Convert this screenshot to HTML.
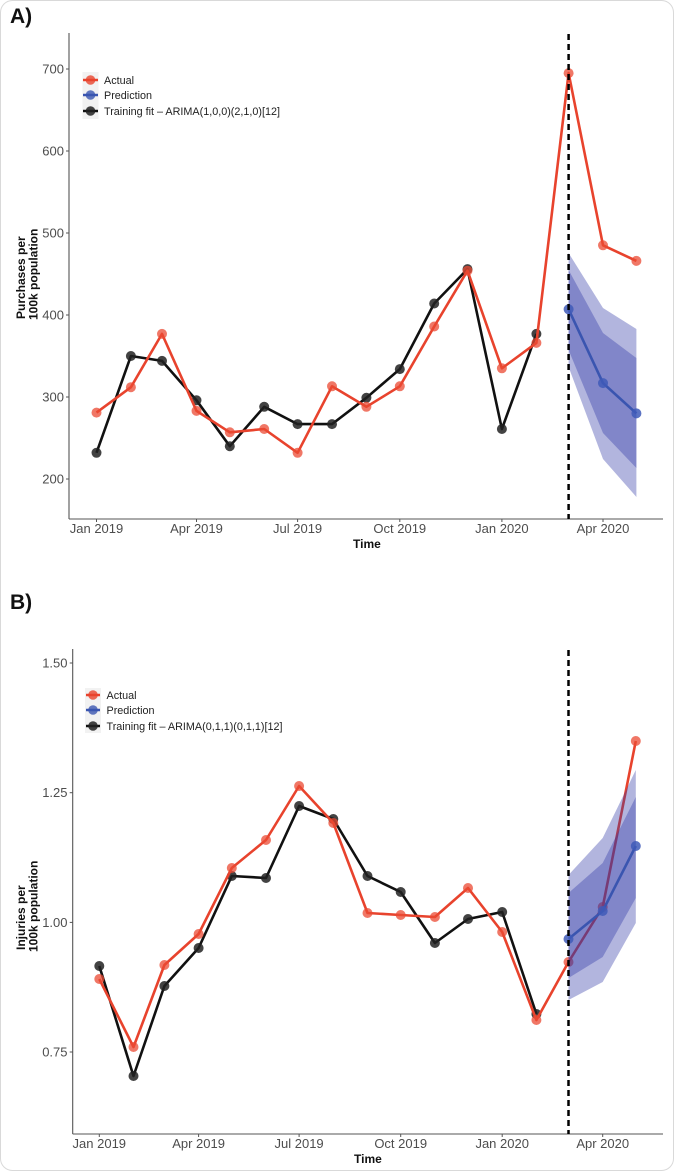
<!DOCTYPE html>
<html>
<head>
<meta charset="utf-8">
<style>
  html,body{margin:0;padding:0;background:#fff;}
  svg{display:block;}
  text{font-family:"Liberation Sans",Arial,sans-serif;}
  .tick{font-size:13px;fill:#4d4d4d;}
  .ttl{font-size:12px;font-weight:bold;fill:#111;}
  .leg{font-size:10.8px;fill:#222;}
  .pl{font-size:21px;font-weight:bold;fill:#111;}
</style>
</head>
<body>
<svg width="674" height="1171" viewBox="0 0 674 1171" xmlns="http://www.w3.org/2000/svg">
  <rect x="0.5" y="0.5" width="673" height="1170" rx="12" ry="12" fill="#fff" stroke="#d9d9d9" stroke-width="1"/>

  <!-- ================= PANEL A ================= -->
  <text class="pl" x="10" y="23">A)</text>

  <!-- axes -->
  <line x1="69" y1="33" x2="69" y2="519" stroke="#555" stroke-width="1.1"/>
  <line x1="69" y1="519" x2="663" y2="519" stroke="#555" stroke-width="1.1"/>

  <!-- y ticks -->
  <g stroke="#555" stroke-width="1">
    <line x1="66" y1="69" x2="69" y2="69"/>
    <line x1="66" y1="151" x2="69" y2="151"/>
    <line x1="66" y1="233" x2="69" y2="233"/>
    <line x1="66" y1="315" x2="69" y2="315"/>
    <line x1="66" y1="397" x2="69" y2="397"/>
    <line x1="66" y1="479" x2="69" y2="479"/>
  </g>
  <g class="tick" text-anchor="end">
    <text x="64" y="73.5">700</text>
    <text x="64" y="155.5">600</text>
    <text x="64" y="237.5">500</text>
    <text x="64" y="319.5">400</text>
    <text x="64" y="401.5">300</text>
    <text x="64" y="483.5">200</text>
  </g>
  <!-- x ticks -->
  <g stroke="#555" stroke-width="1">
    <line x1="96.5" y1="519" x2="96.5" y2="522"/>
    <line x1="196.5" y1="519" x2="196.5" y2="522"/>
    <line x1="297.6" y1="519" x2="297.6" y2="522"/>
    <line x1="399.8" y1="519" x2="399.8" y2="522"/>
    <line x1="501.9" y1="519" x2="501.9" y2="522"/>
    <line x1="603" y1="519" x2="603" y2="522"/>
  </g>
  <g class="tick" text-anchor="middle">
    <text x="96.5" y="533">Jan 2019</text>
    <text x="196.5" y="533">Apr 2019</text>
    <text x="297.6" y="533">Jul 2019</text>
    <text x="399.8" y="533">Oct 2019</text>
    <text x="501.9" y="533">Jan 2020</text>
    <text x="603" y="533">Apr 2020</text>
  </g>
  <text class="ttl" x="353" y="548">Time</text>
  <text class="ttl" transform="translate(25,319) rotate(-90)">Purchases per</text>
  <text class="ttl" transform="translate(37.5,320) rotate(-90)">100k population</text>

  <!-- legend A -->
  <rect x="82.5" y="72" width="16" height="47" fill="#f2f2f2"/>
  <line x1="83" y1="80" x2="98" y2="80" stroke="#e8432d" stroke-width="2.5"/>
  <circle cx="90.5" cy="80" r="4.8" fill="#e8432d" fill-opacity="0.8"/>
  <line x1="83" y1="95" x2="98" y2="95" stroke="#3a55b0" stroke-width="2.5"/>
  <circle cx="90.5" cy="95" r="4.8" fill="#3a55b0" fill-opacity="0.8"/>
  <line x1="83" y1="111" x2="98" y2="111" stroke="#111" stroke-width="2.5"/>
  <circle cx="90.5" cy="111" r="4.8" fill="#222" fill-opacity="0.85"/>
  <g class="leg">
    <text x="104" y="84">Actual</text>
    <text x="104" y="99">Prediction</text>
    <text x="104" y="115">Training fit – ARIMA(1,0,0)(2,1,0)[12]</text>
  </g>

  <!-- black training fit A -->
  <polyline fill="none" stroke="#111" stroke-width="2.6" stroke-linejoin="round"
    points="96.5,452.8 130.9,356.0 162.0,360.9 196.5,400.3 229.8,446.2 264.2,406.8 297.6,424.1 332.0,424.1 366.4,397.8 399.8,369.1 434.2,303.5 467.5,269.1 501.9,429.0 536.4,333.9"/>
  <g fill="#222" fill-opacity="0.85">
    <circle cx="96.5" cy="452.8" r="5"/><circle cx="130.9" cy="356.0" r="5"/><circle cx="162.0" cy="360.9" r="5"/>
    <circle cx="196.5" cy="400.3" r="5"/><circle cx="229.8" cy="446.2" r="5"/><circle cx="264.2" cy="406.8" r="5"/>
    <circle cx="297.6" cy="424.1" r="5"/><circle cx="332.0" cy="424.1" r="5"/><circle cx="366.4" cy="397.8" r="5"/>
    <circle cx="399.8" cy="369.1" r="5"/><circle cx="434.2" cy="303.5" r="5"/><circle cx="467.5" cy="269.1" r="5"/>
    <circle cx="501.9" cy="429.0" r="5"/><circle cx="536.4" cy="333.9" r="5"/>
  </g>

  <!-- red actual A -->
  <polyline fill="none" stroke="#e8432d" stroke-width="2.6" stroke-linejoin="round"
    points="96.5,412.6 130.9,387.2 162.0,333.9 196.5,410.9 229.8,432.3 264.2,429.0 297.6,452.8 332.0,386.3 366.4,406.8 399.8,386.3 434.2,326.5 467.5,270.7 501.9,368.3 536.4,342.9 568.6,73.1 603.0,245.3 636.4,260.9"/>
  <g fill="#eb4a33" fill-opacity="0.75">
    <circle cx="96.5" cy="412.6" r="5"/><circle cx="130.9" cy="387.2" r="5"/><circle cx="162.0" cy="333.9" r="5"/>
    <circle cx="196.5" cy="410.9" r="5"/><circle cx="229.8" cy="432.3" r="5"/><circle cx="264.2" cy="429.0" r="5"/>
    <circle cx="297.6" cy="452.8" r="5"/><circle cx="332.0" cy="386.3" r="5"/><circle cx="366.4" cy="406.8" r="5"/>
    <circle cx="399.8" cy="386.3" r="5"/><circle cx="434.2" cy="326.5" r="5"/><circle cx="467.5" cy="270.7" r="5"/>
    <circle cx="501.9" cy="368.3" r="5"/><circle cx="536.4" cy="342.9" r="5"/><circle cx="568.6" cy="73.1" r="5"/>
    <circle cx="603.0" cy="245.3" r="5"/><circle cx="636.4" cy="260.9" r="5"/>
  </g>

  <!-- bands A -->
  <polygon points="568.6,253 603.0,308 636.4,329 636.4,497 603.0,459 568.6,367" fill="#2d37a5" fill-opacity="0.37"/>
  <polygon points="568.6,270 603.0,333 636.4,358 636.4,468 603.0,433 568.6,350" fill="#2d37a5" fill-opacity="0.37"/>
  <!-- prediction A -->
  <polyline fill="none" stroke="#3a55b0" stroke-width="2.6" points="568.6,309.3 603.0,383.1 636.4,413.4"/>
  <g fill="#3f5ab8" fill-opacity="0.85">
    <circle cx="568.6" cy="309.3" r="5"/><circle cx="603.0" cy="383.1" r="5"/><circle cx="636.4" cy="413.4" r="5"/>
  </g>
  <!-- dashed A -->
  <line x1="568.6" y1="34" x2="568.6" y2="519" stroke="#000" stroke-width="2.5" stroke-dasharray="6,4"/>

  <!-- ================= PANEL B ================= -->
  <text class="pl" x="10" y="609">B)</text>

  <line x1="72.7" y1="649" x2="72.7" y2="1134" stroke="#555" stroke-width="1.1"/>
  <line x1="72.7" y1="1134" x2="663" y2="1134" stroke="#555" stroke-width="1.1"/>

  <g stroke="#555" stroke-width="1">
    <line x1="69.7" y1="663" x2="72.7" y2="663"/>
    <line x1="69.7" y1="792.7" x2="72.7" y2="792.7"/>
    <line x1="69.7" y1="922.4" x2="72.7" y2="922.4"/>
    <line x1="69.7" y1="1052" x2="72.7" y2="1052"/>
  </g>
  <g class="tick" text-anchor="end">
    <text x="67.5" y="667.5">1.50</text>
    <text x="67.5" y="797.2">1.25</text>
    <text x="67.5" y="926.9">1.00</text>
    <text x="67.5" y="1056.5">0.75</text>
  </g>
  <g stroke="#555" stroke-width="1">
    <line x1="99.3" y1="1134" x2="99.3" y2="1137"/>
    <line x1="198.6" y1="1134" x2="198.6" y2="1137"/>
    <line x1="299.1" y1="1134" x2="299.1" y2="1137"/>
    <line x1="400.7" y1="1134" x2="400.7" y2="1137"/>
    <line x1="502.2" y1="1134" x2="502.2" y2="1137"/>
    <line x1="602.7" y1="1134" x2="602.7" y2="1137"/>
  </g>
  <g class="tick" text-anchor="middle">
    <text x="99.3" y="1148">Jan 2019</text>
    <text x="198.6" y="1148">Apr 2019</text>
    <text x="299.1" y="1148">Jul 2019</text>
    <text x="400.7" y="1148">Oct 2019</text>
    <text x="502.2" y="1148">Jan 2020</text>
    <text x="602.7" y="1148">Apr 2020</text>
  </g>
  <text class="ttl" x="354" y="1163">Time</text>
  <text class="ttl" transform="translate(25,950) rotate(-90)">Injuries per</text>
  <text class="ttl" transform="translate(37.5,952) rotate(-90)">100k population</text>

  <!-- legend B -->
  <rect x="85" y="688" width="16" height="45" fill="#f2f2f2"/>
  <line x1="86" y1="695" x2="100" y2="695" stroke="#e8432d" stroke-width="2.5"/>
  <circle cx="93" cy="695" r="4.8" fill="#e8432d" fill-opacity="0.8"/>
  <line x1="86" y1="710" x2="100" y2="710" stroke="#3a55b0" stroke-width="2.5"/>
  <circle cx="93" cy="710" r="4.8" fill="#3a55b0" fill-opacity="0.8"/>
  <line x1="86" y1="726" x2="100" y2="726" stroke="#111" stroke-width="2.5"/>
  <circle cx="93" cy="726" r="4.8" fill="#222" fill-opacity="0.85"/>
  <g class="leg">
    <text x="106.5" y="699">Actual</text>
    <text x="106.5" y="714">Prediction</text>
    <text x="106.5" y="730">Training fit – ARIMA(0,1,1)(0,1,1)[12]</text>
  </g>

  <!-- black B -->
  <polyline fill="none" stroke="#111" stroke-width="2.6" stroke-linejoin="round"
    points="99.3,966 133.5,1076 164.4,986 198.6,948 231.8,876 266.0,878 299.1,806 333.3,819 367.5,876 400.7,892 434.9,943 468.0,919 502.2,912 536.4,1014"/>
  <g fill="#222" fill-opacity="0.85">
    <circle cx="99.3" cy="966" r="5"/><circle cx="133.5" cy="1076" r="5"/><circle cx="164.4" cy="986" r="5"/>
    <circle cx="198.6" cy="948" r="5"/><circle cx="231.8" cy="876" r="5"/><circle cx="266.0" cy="878" r="5"/>
    <circle cx="299.1" cy="806" r="5"/><circle cx="333.3" cy="819" r="5"/><circle cx="367.5" cy="876" r="5"/>
    <circle cx="400.7" cy="892" r="5"/><circle cx="434.9" cy="943" r="5"/><circle cx="468.0" cy="919" r="5"/>
    <circle cx="502.2" cy="912" r="5"/><circle cx="536.4" cy="1014" r="5"/>
  </g>

  <!-- red B -->
  <polyline fill="none" stroke="#e8432d" stroke-width="2.6" stroke-linejoin="round"
    points="99.3,979 133.5,1047 164.4,965 198.6,934 231.8,868 266.0,840 299.1,786 333.3,823 367.5,913 400.7,915 434.9,917 468.0,888 502.2,932 536.4,1020 568.5,962 602.7,907 635.8,741"/>
  <g fill="#eb4a33" fill-opacity="0.75">
    <circle cx="99.3" cy="979" r="5"/><circle cx="133.5" cy="1047" r="5"/><circle cx="164.4" cy="965" r="5"/>
    <circle cx="198.6" cy="934" r="5"/><circle cx="231.8" cy="868" r="5"/><circle cx="266.0" cy="840" r="5"/>
    <circle cx="299.1" cy="786" r="5"/><circle cx="333.3" cy="823" r="5"/><circle cx="367.5" cy="913" r="5"/>
    <circle cx="400.7" cy="915" r="5"/><circle cx="434.9" cy="917" r="5"/><circle cx="468.0" cy="888" r="5"/>
    <circle cx="502.2" cy="932" r="5"/><circle cx="536.4" cy="1020" r="5"/><circle cx="568.5" cy="962" r="5"/>
    <circle cx="602.7" cy="907" r="5"/><circle cx="635.8" cy="741" r="5"/>
  </g>

  <!-- bands B -->
  <polygon points="568.5,875 602.7,838 635.8,770 635.8,923 602.7,982 568.5,1000" fill="#2d37a5" fill-opacity="0.37"/>
  <polygon points="568.5,893 602.7,863 635.8,797 635.8,898 602.7,957 568.5,978" fill="#2d37a5" fill-opacity="0.37"/>
  <polyline fill="none" stroke="#3a55b0" stroke-width="2.6" points="568.5,939 602.7,911 635.8,846"/>
  <g fill="#3f5ab8" fill-opacity="0.85">
    <circle cx="568.5" cy="939" r="5"/><circle cx="602.7" cy="911" r="5"/><circle cx="635.8" cy="846" r="5"/>
  </g>
  <line x1="568.5" y1="650" x2="568.5" y2="1134" stroke="#000" stroke-width="2.5" stroke-dasharray="6,4"/>
</svg>
</body>
</html>
